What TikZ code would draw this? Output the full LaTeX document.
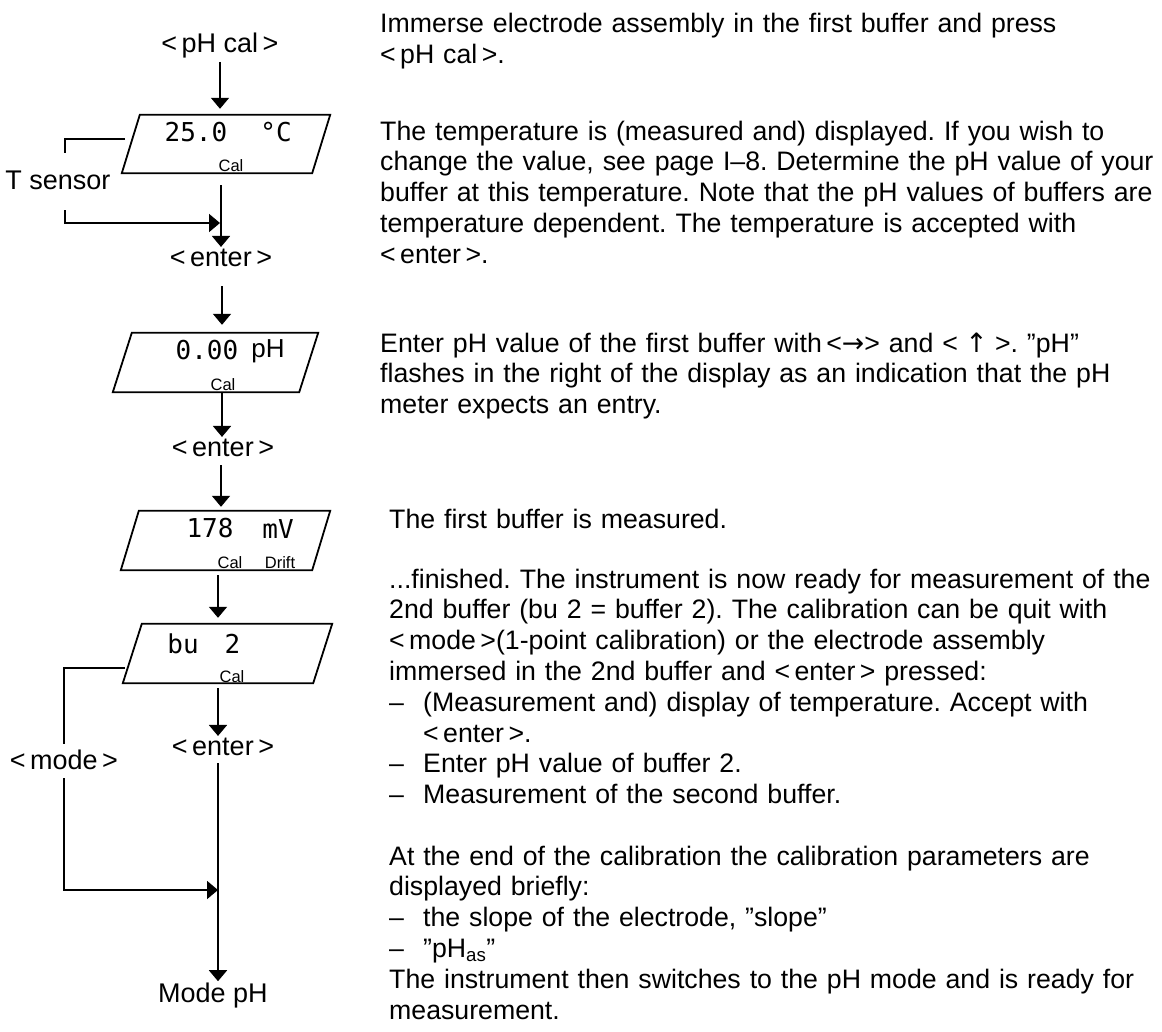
\documentclass[tikz,border=0pt]{standalone}
\usepackage{fontspec}
\setmainfont{Liberation Sans}
\newfontfamily\lcdfont{DejaVu Sans Mono}
\newfontfamily\arrfont{DejaVu Sans}
\usetikzlibrary{arrows.meta}
\tikzset{
  ln/.style={line width=1.8pt},
  arr/.style={line width=1.8pt, -{Triangle[width=18pt,length=11pt]}},
  txt/.style={font=\fontsize{27}{30.8}\selectfont, inner sep=2pt},
  para/.style={font=\fontsize{26.7}{30.8}\selectfont\frenchspacing, inner sep=0pt, anchor=base west, align=left, text width=790pt},
  lcdbox/.style={inner sep=0pt, minimum height=59pt},
  frame/.style={line width=1.8pt, line join=miter},
  seg/.style={font=\lcdfont\fontsize{26}{26}\selectfont, inner sep=0pt},
  lcdsans/.style={font=\fontsize{26}{26}\selectfont, inner sep=0pt},
  small/.style={font=\fontsize{16.5}{16.5}\selectfont, inner sep=0pt},
}
\newcommand\dsh{\makebox[34pt][l]{–}}
\begin{document}
\begin{tikzpicture}[x=1pt,y=1pt]
\useasboundingbox[fill=white] (0,0) rectangle (1162,-1031);

% ---------- left column ----------
\node[txt] (pHcal) at (220,-46) {<\,pH cal\,>};

\node[lcdbox, minimum width=208pt, minimum height=58pt] (d1) at (226,-144) {};
\draw[frame] (d1.south west) -- ([xshift=-18pt]d1.south east) -- (d1.north east) -- ([xshift=18pt]d1.north west) -- cycle;
\node[seg] (d1v) at (196,-132) {25.0};
\node[seg] (d1u) at (276,-132) {°C};
\node[small] (d1c) at (231,-166) {Cal};

\node[txt] (tsensor) at (58,-180) {T sensor};
\coordinate (tin) at (125,-139);
\coordinate (tb1) at (65,-153);
\coordinate (tb2) at (65,-210);
\coordinate (tj) at (220,-223);
\draw[ln] (tin) -| (tb1);
\draw[arr] (tb2) |- (tj);

\node[txt] (enter1) at (221,-258) {<\,enter\,>};

\node[lcdbox, minimum width=205pt] (d2) at (215.5,-362.5) {};
\draw[frame] (d2.south west) -- ([xshift=-19pt]d2.south east) -- (d2.north east) -- ([xshift=19pt]d2.north west) -- cycle;
\node[seg] (d2v) at (207,-350) {0.00};
\node[lcdsans] (d2u) at (268,-351) {pH};
\node[small] (d2c) at (223,-385) {Cal};

\node[txt] (enter2) at (223,-448) {<\,enter\,>};

\node[lcdbox, minimum width=209pt] (d3) at (225.5,-540.5) {};
\draw[frame] (d3.south west) -- ([xshift=-18pt]d3.south east) -- (d3.north east) -- ([xshift=18pt]d3.north west) -- cycle;
\node[seg] (d3v) at (210,-528) {178};
\node[seg] (d3u) at (278,-529) {mV};
\node[small] (d3c) at (230,-563) {Cal};
\node[small] (d3d) at (280,-563) {Drift};

\node[lcdbox, minimum width=209pt] (d4) at (227.5,-653.5) {};
\draw[frame] (d4.south west) -- ([xshift=-19pt]d4.south east) -- (d4.north east) -- ([xshift=19pt]d4.north west) -- cycle;
\node[seg] (d4v) at (183,-644) {bu};
\node[seg] (d4n) at (232.5,-644) {2};
\node[small] (d4c) at (232,-677) {Cal};

\node[txt] (enter3) at (223,-747) {<\,enter\,>};
\node[txt] (mode) at (64,-760) {<\,mode\,>};
\coordinate (min) at (125,-668);
\coordinate (mj) at (218,-890);
\draw[ln, shorten >=4pt] (min) -| (mode.north);
\draw[arr, shorten <=6pt] (mode.south) |- (mj);

\node[txt] (modeph) at (213,-996) {Mode pH};

% main flow
\draw[arr, shorten <=1pt, shorten >=6pt] (pHcal.south) -- (pHcal.south |- d1.north);
\draw[arr, shorten <=12pt] (enter1.north |- d1.south) -- (enter1.north);
\draw[arr, shorten <=17pt, shorten >=8pt] ([xshift=1pt]enter1.south) -- ([xshift=1pt]enter1.south |- d2.north);
\draw[arr] ([xshift=-1pt]enter2.north |- d2.south) -- ([xshift=-1pt]enter2.north);
\draw[arr, shorten <=6pt, shorten >=4pt] ([xshift=-2pt]enter2.south) -- ([xshift=-2pt]enter2.south |- d3.north);
\draw[arr, shorten <=5pt, shorten >=6pt] ([xshift=-7.5pt]d3.south) -- ([xshift=-9.5pt]d4.north);
\draw[arr, shorten <=5pt] ([xshift=-9.5pt]d4.south) -- ([xshift=-9.5pt]d4.south |- enter3.north);
\draw[arr, shorten <=5pt] (enter3.south -| mj) -- (mj |- modeph.north);

% ---------- right column ----------
\node[para] (p1) at (380,-32.5) {Immerse electrode assembly in the first buffer and press\\
<\,pH cal\,>.};
\node[para] (p2) at (380,-140) {The temperature is (measured and) displayed. If you wish to\\
change the value, see page I–8. Determine the pH value of your\\
buffer at this temperature. Note that the pH values of buffers are\\
temperature dependent. The temperature is accepted with\\
<\,enter\,>.};
\node[para] (p3) at (380,-352) {Enter pH value of the first buffer with\,<{\arrfont →}> and <\;{\arrfont ↑}\;>. ”pH”\\
flashes in the right of the display as an indication that the pH\\
meter expects an entry.};
\node[para] (p4) at (389,-528) {The first buffer is measured.};
\node[para] (p5) at (389,-588) {...finished. The instrument is now ready for measurement of the\\
2nd buffer (bu 2 = buffer 2). The calibration can be quit with\\
<\,mode\,>(1-point calibration) or the electrode assembly\\
immersed in the 2nd buffer and <\,enter\,> pressed:\\
\dsh(Measurement and) display of temperature. Accept with\\
\hspace*{34pt}<\,enter\,>.\\
\dsh Enter pH value of buffer 2.\\
\dsh Measurement of the second buffer.};
\node[para] (p6) at (389,-865) {At the end of the calibration the calibration parameters are\\
displayed briefly:\\
\dsh the slope of the electrode, ”slope”\\
\dsh ”pH\textsubscript{as}”\\
The instrument then switches to the pH mode and is ready for\\
measurement.};
\end{tikzpicture}
\end{document}
